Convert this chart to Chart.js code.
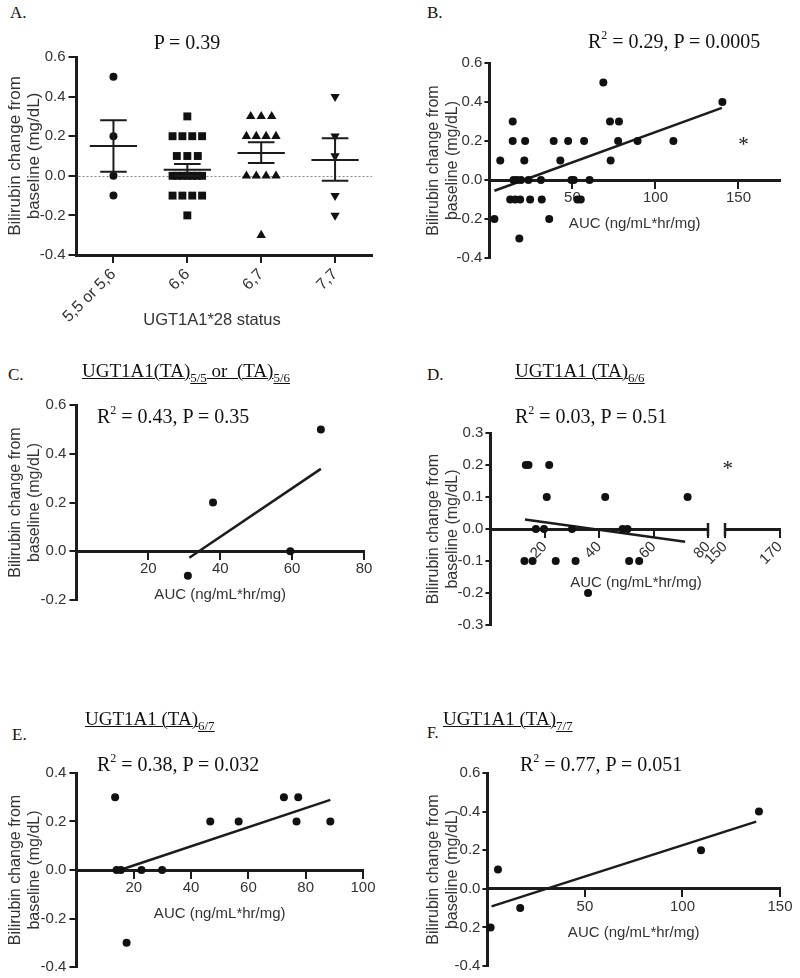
<!DOCTYPE html>
<html>
<head>
<meta charset="utf-8">
<script src="https://cdn.jsdelivr.net/npm/chart.js@4.4.0/dist/chart.umd.min.js"></script>
<style>
  body { margin: 0; background: #fff; }
  #page { position: relative; width: 800px; height: 978px; overflow: hidden; background: #fff; }
  canvas { position: absolute; }
  .t { position: absolute; white-space: pre; line-height: 1; }
  .serif { font-family: "Liberation Serif", "Times New Roman", serif; color: #111; }
  .sans { font-family: "Liberation Sans", Arial, sans-serif; color: #333; }
  .u { text-decoration: underline; text-decoration-thickness: 1px; }
  sup { font-size: 12px; position: relative; top: -9px; vertical-align: baseline; line-height: 0; }
  sub { font-size: 13px; position: relative; top: 5px; vertical-align: baseline; line-height: 0; }
</style>
</head>
<body>
<div id="page"></div>
<script>
// fonts / colours
const SANS = '"Liberation Sans", Arial, sans-serif';
const INK = '#1c1c1c';
const TXT = '#333';
const DOT = '#111';

// ---------- data ----------
// A. change by UGT1A1*28 status
const genotypes = ['5,5 or 5,6', '6,6', '6,7', '7,7'];
const group55 = [0.5, 0.2, 0.0, -0.1];
const group66 = [0.3, 0.2, 0.2, 0.2, 0.2, 0.1, 0.1, 0.1, 0, 0, 0, 0, 0, 0, 0, -0.1, -0.1, -0.1, -0.1, -0.2];
const group67 = [0.3, 0.3, 0.3, 0.2, 0.2, 0.2, 0.2, 0, 0, 0, 0, -0.3];
const group77 = [0.4, 0.2, 0.1, -0.1, -0.2];
const meansA = [0.15, 0.03, 0.115, 0.08];
const semHighA = [0.28, 0.06, 0.17, 0.19];
const semLowA = [0.02, 0.0, 0.065, -0.025];

// B. all patients
const aucAll = [3, 6.5, 14, 14, 21.5, 21, 14.5, 16.5, 19, 23.5, 31, 12.5, 15.5, 18.5, 24.5, 31.5, 18, 36,
  38.7, 42.7, 47.4, 49.4, 50.8, 53, 55, 57, 60.3, 68.6, 72.6, 78, 73, 77.5, 89.2, 110.8, 140.3];
const deltaAll = [-0.2, 0.1, 0.3, 0.2, 0.2, 0.1, 0, 0, 0, 0, 0, -0.1, -0.1, -0.1, -0.1, -0.1, -0.3, -0.2,
  0.2, 0.1, 0.2, 0, 0, -0.1, -0.1, 0.2, 0, 0.5, 0.3, 0.3, 0.1, 0.2, 0.2, 0.2, 0.4];
const fitAllX = [3, 140];
const fitAllY = [-0.055, 0.37];
const starAllX = [153];
const starAllY = [0.2];

// C. (TA)5/5 or 5/6
const aucC = [31, 38, 59.5, 68];
const deltaC = [-0.1, 0.2, 0, 0.5];
const fitCX = [31.4, 68];
const fitCY = [-0.027, 0.338];

// D. (TA)6/6
const aucD = [13, 14, 21.6, 20.7, 42.2, 72.5, 16.7, 19.7, 30, 48.6, 50.4, 12.5, 15.5, 24, 31.3, 51, 54.7, 35.9];
const deltaD = [0.2, 0.2, 0.2, 0.1, 0.1, 0.1, 0, 0, 0, 0, 0, -0.1, -0.1, -0.1, -0.1, -0.1, -0.1, -0.2];
const fitDX = [12.7, 71.6];
const fitDY = [0.03, -0.04];
const starDX = [151];
const starDY = [0.2];
const brokenTicksD = [150, 170];

// E. (TA)6/7
const aucE = [13.5, 14, 15.5, 17.5, 22.7, 29.9, 46.7, 56.6, 72.4, 77.4, 76.8, 88.6];
const deltaE = [0.3, 0, 0, -0.3, 0, 0, 0.2, 0.2, 0.3, 0.3, 0.2, 0.2];
const fitEX = [15.2, 88.6];
const fitEY = [0.0, 0.289];

// F. (TA)7/7
const aucF = [1.6, 5.4, 16.8, 109.5, 139.2];
const deltaF = [-0.2, 0.1, -0.1, 0.2, 0.4];
const fitFX = [2.1, 137.8];
const fitFY = [-0.091, 0.348];

// ---------- helpers ----------
const page = document.getElementById('page');

function addCanvas(left, top, w, h) {
  const c = document.createElement('canvas');
  c.width = Math.round(w); c.height = Math.round(h);
  c.style.left = left + 'px'; c.style.top = top + 'px';
  c.style.width = Math.round(w) + 'px'; c.style.height = Math.round(h) + 'px';
  page.appendChild(c);
  return c;
}

function placeText(html, x, base, size, fam, anchor) {
  const d = document.createElement('div');
  d.className = 't ' + fam;
  d.innerHTML = html;
  d.style.fontSize = size + 'px';
  const k = fam === 'serif' ? 0.8375 : 0.8465;
  d.style.top = (base - k * size) + 'px';
  d.style.left = x + 'px';
  if (anchor === 'center') d.style.transform = 'translateX(-50%)';
  page.appendChild(d);
}

const pts = (xs, ys) => xs.map((x, i) => ({x, y: ys[i]}));

// prism-like horizontal spread of equal values
function spread(values, center) {
  const counts = {}, seen = {};
  values.forEach(v => counts[v] = (counts[v] || 0) + 1);
  return values.map(v => {
    const n = counts[v];
    const k = seen[v] = seen[v] === undefined ? 0 : seen[v] + 1;
    const step = n > 1 ? Math.min(0.142, 0.40 / (n - 1)) : 0;
    return {x: center + (k - (n - 1) / 2) * step, y: v};
  });
}

function yScale(min, max, step, width, titleSize, lh, tl, pad) {
  return {
    type: 'linear', position: 'left', min, max,
    ticks: {stepSize: step, color: TXT, font: {family: SANS, size: 15}, padding: pad,
      callback: v => (Math.abs(v) < 1e-9 ? 0 : v).toFixed(1)},
    grid: {drawOnChartArea: false, drawTicks: true, tickLength: tl, lineWidth: 2, color: INK},
    border: {display: true, color: INK, width: 3},
    title: {display: true, text: ['Bilirubin change from', 'baseline (mg/dL)'], color: TXT,
      font: {family: SANS, size: titleSize, lineHeight: lh}, padding: {top: 4, bottom: 0}},
    afterFit: s => { s.width = width; }
  };
}

function xScale(min, max, step, rot, title, ticksAt) {
  return {
    type: 'linear', position: {y: 0}, min, max,
    afterBuildTicks: s => {
      s.ticks = ticksAt ? ticksAt.map(v => ({value: v})) : s.ticks.filter(t => t.value !== 0);
    },
    ticks: {stepSize: step, includeBounds: false, autoSkip: false, minRotation: rot, maxRotation: rot,
      color: TXT, font: {family: SANS, size: 15}, padding: 2},
    grid: {drawOnChartArea: false, tickLength: 7, lineWidth: 2, color: INK},
    border: {color: INK, width: 3},
    title: {display: !!title, text: title || '', color: TXT,
      font: {family: SANS, size: 15, lineHeight: 1.2}, padding: {top: 6, bottom: 0}}
  };
}

function starPlugin(xs, ys) {
  return {
    id: 'stars',
    afterDatasetsDraw(chart) {
      const {ctx, scales: {x, y}} = chart;
      ctx.save();
      ctx.fillStyle = '#222';
      ctx.font = '21px "Liberation Serif"';
      ctx.textAlign = 'center';
      ctx.textBaseline = 'alphabetic';
      xs.forEach((v, i) => ctx.fillText('*', x.getPixelForValue(v), y.getPixelForValue(ys[i]) + 10));
      ctx.restore();
    }
  };
}

// end caps of the broken axis in D
function capsPlugin(values) {
  return {
    id: 'caps',
    afterDraw(chart) {
      const {ctx, scales: {x, y}} = chart;
      const y0 = y.getPixelForValue(0);
      ctx.save();
      ctx.strokeStyle = INK; ctx.lineWidth = 2.5;
      values.forEach(v => {
        const px = x.getPixelForValue(v);
        ctx.beginPath(); ctx.moveTo(px, y0 - 6); ctx.lineTo(px, y0 + 7); ctx.stroke();
      });
      ctx.restore();
    }
  };
}

const baseOpts = {
  responsive: false, animation: false, devicePixelRatio: 1, events: [],
  plugins: {legend: {display: false}, tooltip: {enabled: false}}
};

// one regression panel; g holds the layout in page pixels
function scatterPanel(g, xs, ys, fitX, fitY, xOpts, extraPlugins) {
  const lh = 1.18, tsize = 16;
  const left = g.line1X - tsize * lh / 2 - 4;
  const top = g.top - 12;
  const w = g.right - left + 20;
  const h = g.bottom - g.top + 24;
  const c = addCanvas(left, top, w, h);
  return new Chart(c, {
    type: 'scatter',
    data: {datasets: [
      {data: pts(xs, ys), pointRadius: 4, pointBackgroundColor: DOT, pointBorderWidth: 0, clip: false},
      {data: pts(fitX, fitY), showLine: true, borderColor: INK, borderWidth: 2.5, pointRadius: 0, clip: false}
    ]},
    options: Object.assign({}, baseOpts, {
      layout: {padding: {top: 12, bottom: 12, left: 0, right: 20}},
      scales: {
        x: xScale(xOpts.min, xOpts.max, xOpts.step, xOpts.rot || 0, xOpts.title),
        y: yScale(g.yMin, g.yMax, g.yStep, g.axisX - left, tsize, lh, g.tl, g.pad)
      }
    }),
    plugins: extraPlugins || []
  });
}

// ---------- panel A ----------
(function () {
  const tsize = 17, lh = 1.12;
  const left = 16 - tsize * lh / 2 - 4;
  const top = 57 - 12;
  const c = addCanvas(left, top, 372 - left + 20, 12 + (255 - 57) + 70);
  const meanSem = {
    id: 'meanSem',
    beforeDatasetsDraw(chart) {
      const {ctx, chartArea: a, scales: {y}} = chart;
      const y0 = Math.round(y.getPixelForValue(0)) + 0.5;
      ctx.save();
      ctx.strokeStyle = '#8a8a8a'; ctx.lineWidth = 1; ctx.setLineDash([2, 2]);
      ctx.beginPath(); ctx.moveTo(a.left + 2, y0); ctx.lineTo(a.right, y0); ctx.stroke();
      ctx.restore();
    },
    afterDatasetsDraw(chart) {
      const {ctx, scales: {x, y}} = chart;
      ctx.save();
      ctx.strokeStyle = INK; ctx.lineWidth = 2;
      meansA.forEach((m, i) => {
        const cx = x.getPixelForValue(i);
        const mw = x.getPixelForValue(i + 0.32) - cx;
        const cw = x.getPixelForValue(i + 0.18) - cx;
        const ym = y.getPixelForValue(m), yh = y.getPixelForValue(semHighA[i]), yl = y.getPixelForValue(semLowA[i]);
        ctx.beginPath();
        ctx.moveTo(cx - mw, ym); ctx.lineTo(cx + mw, ym);
        ctx.moveTo(cx, yh); ctx.lineTo(cx, yl);
        ctx.moveTo(cx - cw, yh); ctx.lineTo(cx + cw, yh);
        ctx.moveTo(cx - cw, yl); ctx.lineTo(cx + cw, yl);
        ctx.stroke();
      });
      ctx.restore();
    }
  };
  const dot = {pointBackgroundColor: DOT, pointBorderWidth: 0, clip: false};
  new Chart(c, {
    type: 'scatter',
    data: {datasets: [
      Object.assign({data: spread(group55, 0), pointStyle: 'circle', pointRadius: 4}, dot),
      Object.assign({data: spread(group66, 1), pointStyle: 'rect', pointRadius: 5.6}, dot),
      Object.assign({data: spread(group67, 2), pointStyle: 'triangle', pointRadius: 5.4}, dot),
      Object.assign({data: spread(group77, 3), pointStyle: 'triangle', pointRotation: 180, pointRadius: 5.4}, dot)
    ]},
    options: Object.assign({}, baseOpts, {
      layout: {padding: {top: 12, bottom: 0, left: 0, right: 20}},
      scales: {
        x: {
          type: 'linear', position: 'bottom', min: -0.5, max: 3.5,
          afterBuildTicks: s => { s.ticks = genotypes.map((g, i) => ({value: i})); },
          afterFit: s => { s.height = 70; },
          ticks: {autoSkip: false, minRotation: 45, maxRotation: 45, color: TXT,
            font: {family: SANS, size: 16}, padding: 2, callback: v => genotypes[v]},
          grid: {drawOnChartArea: false, tickLength: 8, lineWidth: 2, color: INK},
          border: {color: INK, width: 3}
        },
        y: yScale(-0.4, 0.6, 0.2, 77 - left, tsize, lh, 8, 3)
      }
    }),
    plugins: [meanSem]
  });
})();

// ---------- panels B-F ----------
const AUC_TITLE = 'AUC (ng/mL*hr/mg)';

scatterPanel({axisX: 489, top: 63, bottom: 258, right: 780, line1X: 433, yMin: -0.4, yMax: 0.6, yStep: 0.2, tl: 5, pad: 2},
  aucAll, deltaAll, fitAllX, fitAllY, {min: 0, max: 175, step: 50, title: AUC_TITLE},
  [starPlugin(starAllX, starAllY)]);

scatterPanel({axisX: 76, top: 405, bottom: 600, right: 364, line1X: 15, yMin: -0.2, yMax: 0.6, yStep: 0.2, tl: 7, pad: 3},
  aucC, deltaC, fitCX, fitCY, {min: 0, max: 80, step: 20, title: AUC_TITLE});

scatterPanel({axisX: 490, top: 433, bottom: 625, right: 708, line1X: 433, yMin: -0.3, yMax: 0.3, yStep: 0.1, tl: 5, pad: 2},
  aucD, deltaD, fitDX, fitDY, {min: 0, max: 80, step: 20, rot: 45}, [capsPlugin([80])]);

// right-hand piece of D's broken x axis
(function () {
  const padL = 30;
  const c = addCanvas(725 - padL, 433 - 12, padL + (780 - 725) + 20, 625 - 433 + 24);
  new Chart(c, {
    type: 'scatter',
    data: {datasets: []},
    options: Object.assign({}, baseOpts, {
      layout: {padding: {top: 12, bottom: 12, left: padL, right: 20}},
      scales: {
        x: xScale(150, 170, 20, 45, '', brokenTicksD),
        y: {type: 'linear', display: false, min: -0.3, max: 0.3}
      }
    }),
    plugins: [capsPlugin([150]), starPlugin(starDX, starDY)]
  });
})();

scatterPanel({axisX: 76, top: 773, bottom: 967, right: 363, line1X: 15, yMin: -0.4, yMax: 0.4, yStep: 0.2, tl: 7, pad: 3},
  aucE, deltaE, fitEX, fitEY, {min: 0, max: 100, step: 20, title: AUC_TITLE});

scatterPanel({axisX: 487, top: 773, bottom: 966, right: 780, line1X: 433, yMin: -0.4, yMax: 0.6, yStep: 0.2, tl: 5, pad: 2},
  aucF, deltaF, fitFX, fitFY, {min: 0, max: 150, step: 50, title: AUC_TITLE});

// ---------- text ----------
placeText('A.', 10, 18, 17, 'serif');
placeText('P = 0.39', 187, 49, 20, 'serif', 'center');
placeText('UGT1A1*28 status', 212, 325, 16.5, 'sans', 'center');
placeText('B.', 427, 18, 17, 'serif');
placeText('R<sup>2</sup> = 0.29, P = 0.0005', 588, 48, 20, 'serif');
placeText('C.', 8, 380, 17, 'serif');
placeText('<span class="u">UGT1A1(TA)</span><sub class="u">5/5</sub><span class="u"> or  (TA)</span><sub class="u">5/6</sub>', 82, 377, 19, 'serif');
placeText('R<sup>2</sup> = 0.43, P = 0.35', 97, 423, 20, 'serif');
placeText('D.', 427, 380, 17, 'serif');
placeText('<span class="u">UGT1A1 (TA)</span><sub class="u">6/6</sub>', 515, 377, 19, 'serif');
placeText('R<sup>2</sup> = 0.03, P = 0.51', 515, 423, 20, 'serif');
placeText(AUC_TITLE, 636, 587, 15, 'sans', 'center');
placeText('E.', 12, 740, 17, 'serif');
placeText('<span class="u">UGT1A1 (TA)</span><sub class="u">6/7</sub>', 85, 725, 19, 'serif');
placeText('R<sup>2</sup> = 0.38, P = 0.032', 97, 771, 20, 'serif');
placeText('F.', 427, 738, 16, 'serif');
placeText('<span class="u">UGT1A1 (TA)</span><sub class="u">7/7</sub>', 443, 725, 19, 'serif');
placeText('R<sup>2</sup> = 0.77, P = 0.051', 520, 771, 20, 'serif');
</script>
</body>
</html>
